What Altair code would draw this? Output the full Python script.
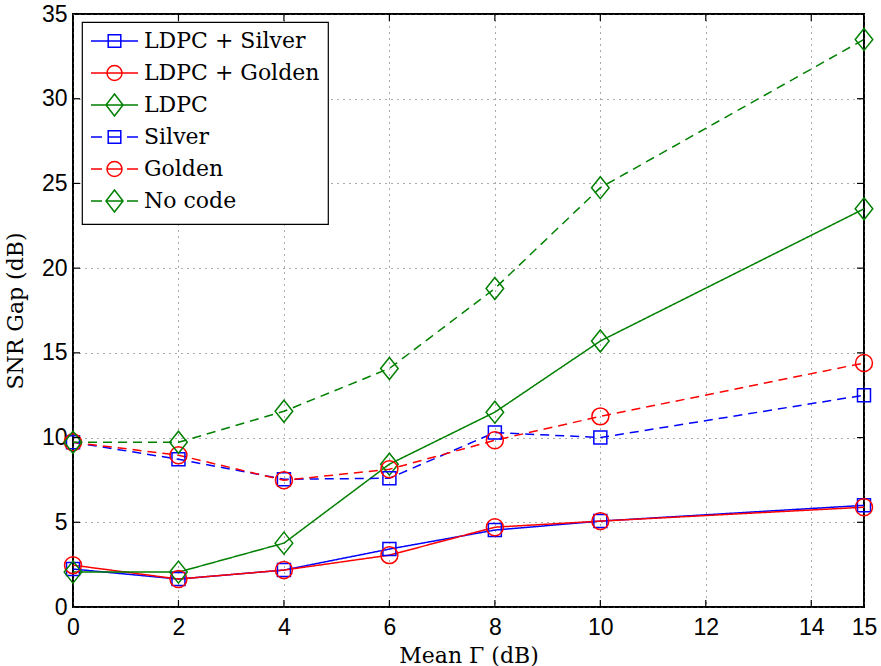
import altair as alt
import pandas as pd

# ---------------- data ----------------
x_vals = [0, 2, 4, 6, 8, 10, 15]
series_names = ["LDPC + Silver", "LDPC + Golden", "LDPC", "Silver", "Golden", "No code"]
ldpc_silver = [2.24, 1.65, 2.18, 3.42, 4.54, 5.07, 6.0]
ldpc_golden = [2.47, 1.65, 2.18, 3.06, 4.71, 5.07, 5.89]
ldpc = [2.06, 2.06, 3.77, 8.43, 11.5, 15.7, 23.5]
silver = [9.72, 8.72, 7.54, 7.6, 10.3, 10.0, 12.5]
golden = [9.72, 8.96, 7.48, 8.13, 9.84, 11.25, 14.4]
no_code = [9.72, 9.72, 11.55, 14.08, 18.8, 24.75, 33.5]
x_ticks = [0, 2, 4, 6, 8, 10, 12, 14, 15]
y_ticks = [0, 5, 10, 15, 20, 25, 30, 35]

all_series = [ldpc_silver, ldpc_golden, ldpc, silver, golden, no_code]
rows = []
for name, vals in zip(series_names, all_series):
    for xv, yv in zip(x_vals, vals):
        rows.append({"series": name, "x": xv, "y": yv})
df = pd.DataFrame(rows)

# ---------------- styles ----------------
colors = ["#0000ff", "#ff0000", "#008000", "#0000ff", "#ff0000", "#008000"]
dashes = [[1, 0], [1, 0], [1, 0], [9, 6], [9, 6], [9, 6]]

sq = "M-0.59,-0.59H0.59V0.59H-0.59Z"
ci = "M0.77,0A0.77,0.77,0,1,1,-0.77,0A0.77,0.77,0,1,1,0.77,0Z"
di = "M0,-1L0.8,0L0,1L-0.8,0Z"
marker_paths = [sq, ci, di, sq, ci, di]

# legend glyphs: line sample + marker (unit = 10 px, marker centred at 1.35)
pad_box = "M1.35,-1.2M1.35,1.2"   # invisible moves giving every glyph the same height
lsq = "M0.72,-0.63H1.98V0.63H0.72Z"
lci = "M2.1,0A0.75,0.75,0,1,1,0.6,0A0.75,0.75,0,1,1,2.1,0Z"
ldi = "M1.35,-1.1L2.2,0L1.35,1.1L0.5,0Z"
solid_line = "M-1,0H3.7"
dash_sq = "M-1,0H0.1M0.72,0H1.98M2.6,0H3.7"
dash_ci = "M-1,0H0.1M0.6,0H2.1M2.6,0H3.7"
dash_di = "M-1,0H0.1M0.5,0H2.2M2.6,0H3.7"
legend_paths = [
    pad_box + solid_line + lsq, pad_box + solid_line + lci, pad_box + solid_line + ldi,
    pad_box + dash_sq + lsq, pad_box + dash_ci + lci, pad_box + dash_di + ldi,
]

X_DOM = [0, 15]
Y_DOM = [0, 35]
tick_len_x = 7 / 791 * 15
tick_len_y = 7 / 593 * 35

x_axis = alt.Axis(
    values=x_ticks, title="Mean Γ (dB)", ticks=False, domain=False,
    grid=True, gridColor="#555555", gridDash=[1, 5], gridWidth=1,
    labelFont="Liberation Sans", labelFontSize=23, labelColor="black",
    labelPadding=9, labelFlush=False,
    titleFont="DejaVu Serif", titleFontSize=22, titleFontWeight="normal",
    titleColor="black", titleY=55, titleBaseline="alphabetic",
)
y_axis = alt.Axis(
    values=y_ticks, title="SNR Gap (dB)", ticks=False, domain=False,
    grid=True, gridColor="#555555", gridDash=[1, 5], gridWidth=1,
    labelFont="Liberation Sans", labelFontSize=23, labelColor="black",
    labelPadding=6, labelFlush=False,
    titleFont="DejaVu Serif", titleFontSize=22, titleFontWeight="normal",
    titleColor="black", titleX=-51, titleBaseline="alphabetic",
)
xs = alt.Scale(domain=X_DOM, nice=False, zero=False)
ys = alt.Scale(domain=Y_DOM, nice=False)


def X(field="x:Q"):
    return alt.X(field, scale=xs, axis=x_axis, title="Mean Γ (dB)")


def Y(field="y:Q"):
    return alt.Y(field, scale=ys, axis=y_axis, title="SNR Gap (dB)")


color_nol = alt.Color("series:N", scale=alt.Scale(domain=series_names, range=colors), legend=None)

base = alt.Chart(df)

lines = base.mark_line(strokeWidth=1.5).encode(
    x=X(), y=Y(), color=color_nol,
    strokeDash=alt.StrokeDash("series:N", scale=alt.Scale(domain=series_names, range=dashes), legend=None),
)

points = base.mark_point(filled=False, size=484, strokeWidth=1.5, opacity=1).encode(
    x=X(), y=Y(), color=color_nol,
    shape=alt.Shape("series:N", scale=alt.Scale(domain=series_names, range=marker_paths), legend=None),
)

leg = alt.Legend(
    title=None, orient="none", legendX=9, legendY=8,
    fillColor="white", strokeColor="black",
    padding=8, symbolSize=400, symbolStrokeWidth=1.5, symbolFillColor="transparent",
    labelFont="DejaVu Serif", labelFontSize=22, labelColor="black", labelOffset=32,
    rowPadding=2, labelLimit=400,
)
legend_layer = base.transform_filter("false").mark_point(filled=False, strokeWidth=1.5, opacity=1).encode(
    x=X(), y=Y(),
    color=alt.Color("series:N", scale=alt.Scale(domain=series_names, range=colors), legend=leg),
    shape=alt.Shape("series:N", scale=alt.Scale(domain=series_names, range=legend_paths), legend=leg),
)

# inward tick marks on all four sides
bt = pd.DataFrame({"x": [t for t in x_ticks if 0 < t < 15]})
lt = pd.DataFrame({"y": [t for t in y_ticks if 0 < t < 35]})
bt_bottom = bt.assign(y=0.0, y2=tick_len_y)
bt_top = bt.assign(y=35.0, y2=35 - tick_len_y)
lt_left = lt.assign(x=0.0, x2=tick_len_x)
lt_right = lt.assign(x=15.0, x2=15 - tick_len_x)


def vticks(d):
    return alt.Chart(d).mark_rule(color="black", strokeWidth=1.2).encode(
        x=X(), y=Y(), y2="y2:Q")


def hticks(d):
    return alt.Chart(d).mark_rule(color="black", strokeWidth=1.2).encode(
        x=X(), x2="x2:Q", y=Y())


chart = alt.layer(
    lines, points, legend_layer,
    vticks(bt_bottom), vticks(bt_top), hticks(lt_left), hticks(lt_right),
).resolve_scale(shape="independent", color="independent").properties(
    width=791, height=593,
    autosize=alt.AutoSizeParams(type="none"),
    padding={"left": 73, "top": 14, "right": 17, "bottom": 59},
    background="white",
).configure_view(stroke="black", strokeWidth=2).configure_legend(
    strokeWidth=1.2, cornerRadius=0
)

chart.save("out.html", embed_options={"renderer": "svg", "actions": False})
